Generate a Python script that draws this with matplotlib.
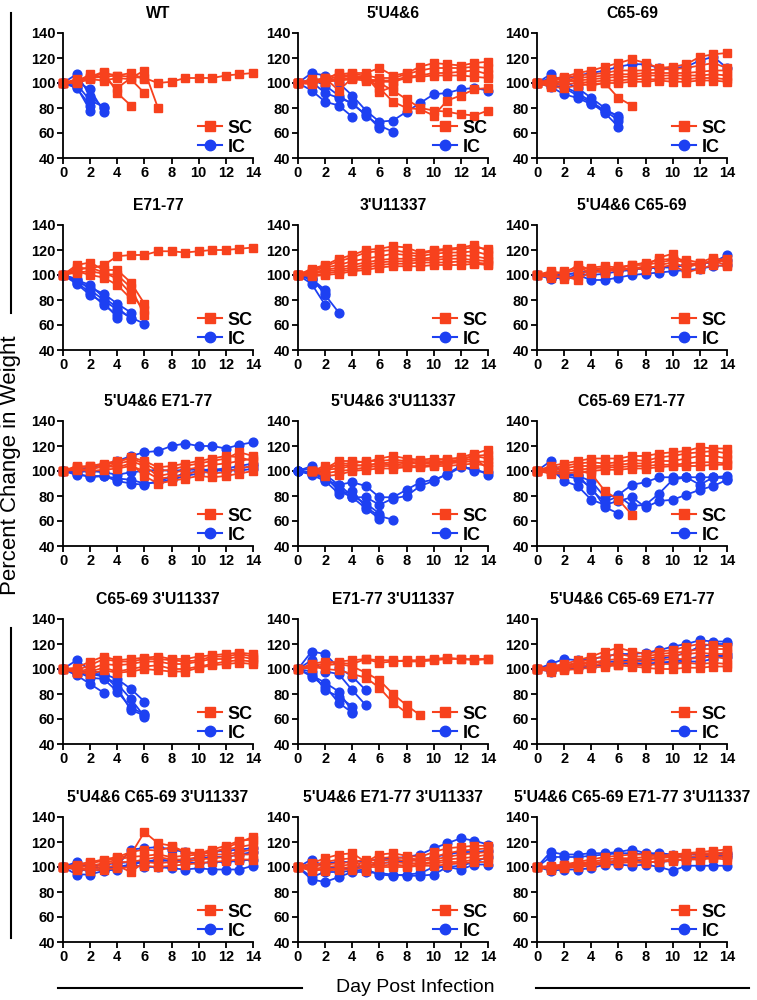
import numpy as np
import matplotlib.pyplot as plt
from matplotlib.lines import Line2D

# ---------------- data (percent of starting weight, day 0..14) ----------------
days = list(range(15))

titles = ["WT", "5'U4&6", "C65-69",
          "E71-77", "3'U11337", "5'U4&6 C65-69",
          "5'U4&6 E71-77", "5'U4&6 3'U11337", "C65-69 E71-77",
          "C65-69 3'U11337", "E71-77 3'U11337", "5'U4&6 C65-69 E71-77",
          "5'U4&6 C65-69 3'U11337", "5'U4&6 E71-77 3'U11337",
          "5'U4&6 C65-69 E71-77 3'U11337"]

wt_sc = [[100, 101, 104, 105, 106, 105, 104, 100, 101, 104, 104, 104, 106, 107, 108],
         [100, 102, 105, 109, 92, 82],
         [100, 101, 107, 104, 96, 104, 110, 80],
         [100, 103, 104, 108, 106, 108, 103],
         [100, 100, 103, 102, 104, 103, 92]]
wt_ic = [[100, 107, 90, 80],
         [100, 101, 95, 77],
         [100, 97, 78],
         [100, 99, 86, 81],
         [100, 96, 82]]

u46_sc = [[100, 102, 104, 107, 108, 108, 112, 106, 108, 113, 116, 115, 114, 116, 117],
          [100, 101, 103, 105, 107, 106, 104, 104, 107, 110, 112, 112, 112, 113, 112],
          [100, 100, 102, 103, 104, 103, 102, 102, 105, 106, 108, 108, 109, 110, 107],
          [100, 100, 101, 102, 103, 102, 101, 101, 104, 105, 106, 106, 106, 105, 104],
          [100, 103, 101, 104, 106, 104, 100, 94, 87, 80, 78, 77, 75, 74, 78],
          [100, 99, 104, 94, 104, 105, 96, 85, 80, 79, 74, 86, 90, 95, 96],
          [100, 101, 103, 108, 104, 105, 93, 97]]
u46_ic = [[100, 94, 85, 82, 73],
          [100, 108, 106, 100, 90, 78, 69, 70, 77, 84, 91, 92, 95, 96, 94],
          [100, 101, 92, 88, 84, 74, 66, 61],
          [100, 103, 98, 90, 83, 75, 64]]

c65_sc = [[100, 103, 105, 108, 110, 113, 116, 119, 116, 112, 113, 115, 121, 123, 124],
          [100, 101, 104, 106, 107, 108, 110, 110, 110, 111, 111, 112, 114, 116, 112],
          [100, 100, 102, 104, 105, 106, 107, 107, 108, 108, 108, 108, 109, 110, 110],
          [100, 99, 101, 102, 103, 104, 105, 105, 106, 106, 106, 106, 106, 107, 106],
          [100, 98, 99, 100, 101, 102, 102, 103, 103, 103, 104, 103, 104, 104, 103],
          [100, 97, 96, 98, 99, 100, 100, 101, 101, 102, 101, 101, 102, 102, 101],
          [100, 102, 104, 100, 98, 100, 88, 82]]
c65_ic = [[100, 104, 103, 106, 108, 110, 113, 115, 115, 112, 112, 113, 118, 121, 112],
          [100, 107, 101, 96, 88, 80, 72],
          [100, 97, 91, 88, 83, 78, 74],
          [100, 99, 96, 90, 84, 76, 65],
          [100, 102, 97, 92, 85, 78, 70]]

e71_sc = [[100, 106, 105, 108, 115, 116, 116, 119, 119, 118, 119, 120, 120, 121, 122],
          [100, 108, 110, 104, 104, 94, 77],
          [100, 102, 103, 101, 100, 90, 68],
          [100, 104, 106, 102, 97, 85, 72],
          [100, 103, 100, 98, 92, 81]]
e71_ic = [[100, 94, 86, 76, 68],
          [100, 96, 92, 82, 74, 65],
          [100, 97, 88, 80, 72, 66, 61],
          [100, 95, 90, 85, 77, 70],
          [100, 93, 84, 78, 66]]

u3_sc = [[100, 105, 108, 113, 116, 120, 121, 123, 122, 118, 120, 121, 122, 124, 119],
         [100, 104, 107, 111, 114, 118, 119, 120, 118, 117, 119, 120, 121, 122, 121],
         [100, 103, 106, 108, 111, 113, 115, 117, 116, 115, 117, 118, 118, 119, 116],
         [100, 102, 104, 106, 108, 110, 112, 113, 113, 113, 114, 115, 116, 115, 113],
         [100, 101, 103, 104, 106, 108, 110, 111, 111, 112, 112, 113, 113, 112, 111],
         [100, 100, 101, 103, 104, 106, 108, 109, 109, 110, 110, 110, 111, 110, 109],
         [100, 99, 100, 101, 103, 104, 106, 107, 107, 107, 108, 108, 108, 109, 108]]
u3_ic = [[100, 96, 86],
         [100, 93, 76],
         [100, 98, 84, 70],
         [100, 97, 88]]

u46c65_sc = [[100, 103, 101, 108, 104, 106, 104, 105, 107, 114, 117, 108, 110, 114, 110],
             [100, 99, 103, 106, 102, 104, 106, 108, 108, 110, 112, 110, 108, 112, 113],
             [100, 101, 97, 99, 105, 104, 103, 106, 104, 108, 110, 106, 109, 111, 108],
             [100, 98, 99, 96, 103, 102, 107, 104, 107, 106, 108, 102, 105, 108, 107],
             [100, 102, 102, 104, 106, 107, 106, 108, 110, 112, 113, 112, 110, 110, 112]]
u46c65_ic = [[100, 97, 98, 100, 96, 96, 98, 100, 101, 102, 103, 104, 105, 107, 108],
             [100, 98, 100, 102, 103, 104, 104, 105, 105, 106, 107, 108, 109, 110, 116],
             [100, 99, 101, 101, 100, 101, 103, 104, 106, 106, 106, 108, 109, 111, 112]]

u46e71_sc = [[100, 103, 104, 106, 108, 110, 106, 100, 101, 104, 106, 108, 110, 115, 112],
             [100, 104, 103, 103, 106, 108, 104, 96, 98, 101, 103, 105, 106, 108, 110],
             [100, 102, 101, 104, 103, 106, 96, 90, 92, 94, 96, 95, 96, 98, 100],
             [100, 101, 100, 101, 102, 104, 100, 94, 95, 97, 100, 98, 99, 102, 104],
             [100, 103, 104, 105, 107, 111, 108, 103, 104, 106, 108, 110, 112, 111, 108]]
u46e71_ic = [[100, 101, 103, 105, 108, 112, 115, 116, 120, 122, 120, 120, 118, 121, 123],
             [100, 98, 95, 96, 92, 90, 89, 92, 95, 98, 100, 101, 100, 102, 104],
             [100, 97, 96, 96, 94, 93, 90, 91, 93, 96, 98, 100, 101, 100, 102],
             [100, 99, 100, 99, 97, 99, 100, 101, 100, 101, 101, 101, 102, 104, 106]]

# SC mice in this group were first weighed on day 1
u46u3_sc = [[None, 100, 102, 108, 108, 107, 110, 112, 110, 109, 110, 109, 111, 114, 117],
            [None, 100, 100, 106, 106, 108, 108, 109, 108, 108, 108, 110, 110, 112, 113],
            [None, 100, 104, 104, 105, 104, 106, 107, 107, 106, 107, 108, 109, 112, 110],
            [None, 100, 98, 100, 101, 103, 104, 104, 104, 104, 105, 106, 107, 108, 107],
            [None, 100, 96, 97, 100, 101, 102, 102, 103, 103, 104, 104, 105, 106, 104],
            [None, 100, 101, 102, 104, 105, 106, 105, 106, 106, 106, 107, 108, 110, 102]]
u46u3_ic = [[100, 104, 97, 89, 91, 88, 79, 79, 85, 91, 93, 97, 103, 102, 97],
            [100, 98, 96, 84, 79, 79, 73, 78, 80, 88, 92, 98, 104, 100, 99],
            [100, 97, 92, 82, 84, 71, 64, 61],
            [100, 99, 93, 89, 80, 74, 66],
            [100, 102, 94, 86, 79, 70, 62]]

c65e71_sc = [[100, 104, 106, 108, 110, 110, 110, 112, 112, 114, 115, 116, 119, 118, 118],
             [100, 102, 104, 106, 107, 106, 107, 109, 108, 111, 112, 114, 115, 116, 114],
             [100, 100, 102, 104, 104, 104, 105, 106, 106, 108, 108, 110, 112, 112, 110],
             [100, 99, 100, 101, 102, 103, 103, 104, 104, 105, 105, 106, 107, 107, 106],
             [100, 98, 98, 99, 100, 101, 101, 102, 102, 103, 104, 104, 104, 105, 105],
             [100, 102, 101, 100, 98, 84, 77, 65]]
c65e71_ic = [[100, 108, 97, 96, 92, 79, 81, 89, 91, 95, 95, 95, 95, 95, 96],
             [100, 102, 92, 88, 77, 73, 76, 79, 71, 76, 77, 81, 85, 88, 93],
             [100, 100, 96, 94, 87, 71, 66],
             [100, 101, 98, 97, 85, 75, 80, 72, 73, 82, 93, 95, 89, 95, 94]]

c65u3_sc = [[100, 101, 106, 110, 107, 108, 109, 110, 108, 108, 110, 111, 112, 113, 112],
            [100, 99, 103, 108, 106, 106, 108, 108, 107, 106, 107, 110, 110, 112, 110],
            [100, 98, 100, 104, 103, 104, 106, 106, 104, 104, 106, 108, 108, 110, 108],
            [100, 97, 98, 101, 98, 100, 102, 103, 100, 100, 102, 104, 106, 107, 106],
            [100, 98, 96, 99, 97, 98, 100, 99, 98, 98, 101, 103, 104, 105, 104]]
c65u3_ic = [[100, 107, 99, 96, 92, 84, 74],
            [100, 95, 88, 81],
            [100, 98, 93, 92, 82, 69, 64],
            [100, 97, 96, 94, 88, 76, 62],
            [100, 99, 97, 95, 85, 67, 63]]

e71u3_sc = [[100, 103, 104, 106, 107, 108, 107, 107, 106, 106, 107, 108, 108, 108, 108],
            [100, 104, 106, 105, 104, 108, 105, 106, 107, 107, 108, 109, 108, 107, 108],
            [100, 101, 103, 104, 102, 97, 91, 80, 71, 63],
            [100, 102, 100, 99, 96, 93, 85, 73, 65]]
e71u3_ic = [[100, 114, 112, 101, 94, 83],
            [100, 107, 98, 96, 83, 71],
            [100, 95, 89, 82, 66],
            [100, 98, 83, 78, 70],
            [100, 94, 86, 73, 65]]

u46c65e71_sc = [[100, 102, 104, 107, 110, 114, 117, 114, 112, 114, 115, 118, 120, 119, 118],
                [100, 101, 103, 105, 108, 110, 112, 110, 110, 112, 113, 114, 116, 116, 116],
                [100, 100, 101, 103, 105, 107, 108, 108, 108, 110, 111, 112, 113, 112, 112],
                [100, 99, 100, 102, 103, 104, 105, 106, 106, 107, 108, 108, 109, 110, 108],
                [100, 98, 99, 100, 101, 102, 103, 103, 103, 104, 104, 105, 104, 105, 104],
                [100, 100, 102, 104, 106, 104, 103, 102, 101, 100, 100, 101, 101, 102, 102]]
u46c65e71_ic = [[100, 104, 108, 107, 108, 110, 112, 112, 113, 115, 118, 120, 123, 122, 122],
                [100, 102, 103, 104, 105, 106, 106, 107, 107, 108, 110, 113, 118, 120, 120],
                [100, 98, 100, 101, 102, 104, 105, 104, 104, 105, 106, 108, 110, 111, 110],
                [100, 99, 101, 102, 103, 103, 104, 105, 104, 105, 105, 106, 106, 108, 112]]

u46c65u3_sc = [[100, 101, 103, 105, 107, 110, 128, 119, 117, 112, 110, 112, 115, 120, 124],
               [100, 102, 104, 106, 108, 112, 114, 113, 116, 112, 111, 114, 117, 121, 122],
               [100, 100, 101, 103, 106, 108, 109, 110, 108, 109, 110, 112, 114, 116, 118],
               [100, 99, 99, 102, 104, 104, 106, 108, 106, 106, 108, 110, 110, 112, 114],
               [100, 98, 98, 100, 101, 96, 104, 103, 104, 104, 106, 107, 108, 110, 110],
               [100, 99, 97, 98, 99, 100, 101, 100, 101, 102, 103, 104, 105, 106, 106]]
u46c65u3_ic = [[100, 94, 94, 97, 98, 102, 100, 100, 99, 98, 99, 98, 98, 98, 101],
               [100, 104, 100, 99, 101, 114, 115, 116, 114, 112, 110, 112, 113, 114, 115],
               [100, 98, 97, 98, 100, 102, 104, 105, 105, 106, 107, 108, 108, 110, 112],
               [100, 102, 101, 102, 103, 104, 104, 106, 105, 104, 103, 104, 104, 105, 106]]

u46e71u3_sc = [[100, 103, 107, 110, 111, 104, 110, 111, 109, 108, 112, 115, 116, 117, 117],
               [100, 101, 104, 106, 107, 97, 107, 108, 107, 106, 108, 111, 113, 114, 115],
               [100, 100, 102, 103, 104, 106, 105, 106, 105, 105, 106, 108, 110, 111, 112],
               [100, 98, 100, 101, 102, 104, 103, 104, 103, 103, 104, 106, 107, 108, 110],
               [100, 97, 98, 99, 100, 102, 101, 102, 101, 102, 103, 104, 104, 106, 107],
               [100, 99, 97, 98, 98, 100, 100, 100, 100, 101, 101, 102, 103, 104, 104]]
u46e71u3_ic = [[100, 102, 103, 104, 104, 105, 106, 107, 108, 110, 115, 119, 123, 121, 118],
               [100, 90, 88, 92, 96, 96, 95, 94, 93, 93, 94, 100, 101, 104, 108],
               [100, 92, 96, 96, 97, 98, 94, 93, 94, 95, 100, 100, 98, 102, 102],
               [100, 106, 100, 99, 99, 101, 103, 104, 105, 106, 108, 110, 112, 112, 113]]

quad_sc = [[100, 100, 102, 104, 106, 108, 109, 110, 110, 109, 110, 111, 112, 113, 114],
           [100, 101, 102, 103, 104, 106, 107, 107, 108, 108, 109, 110, 111, 111, 112],
           [100, 99, 100, 101, 102, 104, 105, 106, 106, 107, 108, 108, 109, 110, 110],
           [100, 98, 99, 100, 101, 103, 104, 104, 103, 105, 106, 106, 107, 108, 108],
           [100, 100, 101, 102, 103, 104, 103, 104, 104, 104, 105, 106, 106, 107, 106]]
quad_ic = [[100, 112, 110, 110, 111, 111, 112, 114, 111, 111, 110, 110, 110, 110, 111],
           [100, 108, 108, 108, 109, 110, 111, 111, 110, 110, 109, 108, 108, 109, 108],
           [100, 97, 98, 98, 99, 102, 102, 101, 102, 100, 97, 101, 101, 101, 101],
           [100, 100, 101, 102, 103, 104, 105, 106, 104, 104, 105, 106, 107, 108, 110]]

sc_all = [wt_sc, u46_sc, c65_sc, e71_sc, u3_sc, u46c65_sc, u46e71_sc, u46u3_sc,
          c65e71_sc, c65u3_sc, e71u3_sc, u46c65e71_sc, u46c65u3_sc, u46e71u3_sc, quad_sc]
ic_all = [wt_ic, u46_ic, c65_ic, e71_ic, u3_ic, u46c65_ic, u46e71_ic, u46u3_ic,
          c65e71_ic, c65u3_ic, e71u3_ic, u46c65e71_ic, u46c65u3_ic, u46e71u3_ic, quad_ic]

# ---------------- style ----------------
RED = "#f7411d"
BLUE = "#1d40f2"

plt.rcParams["font.family"] = ["Liberation Sans", "DejaVu Sans"]

FW, FH = 757, 1000
col_left = [63, 298, 537]
row_top = [33, 225, 421, 619, 817]
W, H = 190, 125

fig = plt.figure(figsize=(FW / 100, FH / 100), dpi=100)


def draw_mice(ax, curves, color, marker):
    for c in curves:
        y = np.array([np.nan if v is None else v for v in c], dtype=float)
        ax.plot(days[:len(y)], y, color=color, marker=marker, ms=6.3,
                lw=1.3, clip_on=False)


for i, (title, sc, ic) in enumerate(zip(titles, sc_all, ic_all)):
    r, c = divmod(i, 3)
    ax = fig.add_axes([col_left[c] / FW, 1 - (row_top[r] + H) / FH, W / FW, H / FH])
    draw_mice(ax, ic, BLUE, "o")
    draw_mice(ax, sc, RED, "s")

    ax.set_xlim(0, 14)
    ax.set_ylim(40, 140)
    ax.set_xticks(range(0, 15, 2))
    ax.set_yticks(range(40, 141, 20))
    ax.spines[["top", "right"]].set_visible(False)
    for s in ("left", "bottom"):
        ax.spines[s].set_linewidth(1.3)
    ax.tick_params(direction="out", length=4, width=1.3, labelsize=10.5, pad=1.5)
    for lab in ax.get_xticklabels() + ax.get_yticklabels():
        lab.set_fontweight("bold")
    ax.set_title(title, fontsize=11.3, fontweight="bold", pad=11)

    handles = [Line2D([], [], color=RED, marker="s", ms=7.5, lw=1.5),
               Line2D([], [], color=BLUE, marker="o", ms=7.5, lw=1.5)]
    ax.legend(handles, ["SC", "IC"], loc="lower right", frameon=False,
              prop={"size": 13, "weight": "bold"}, handlelength=1.3,
              handletextpad=0.35, labelspacing=0.1, borderaxespad=0.0,
              borderpad=0.0, bbox_to_anchor=(1.0, 0.02))

# axis captions with their flanking rules
fig.text(11 / FW, 1 - 465 / FH, "Percent Change in Weight", rotation=90,
         ha="center", va="center", fontsize=16)
fig.text(415 / FW, 1 - 988 / FH, "Day Post Infection", ha="center", va="center",
         fontsize=14)

rules = [((11, 11), (13, 313)), ((11, 11), (628, 938)),
         ((58, 302), (988, 988)), ((536, 749), (988, 988))]
for xs, ys in rules:
    fig.add_artist(Line2D([x / FW for x in xs], [1 - y / FH for y in ys],
                          transform=fig.transFigure, color="black", lw=1.5))

fig.savefig("out.png", dpi=100)
